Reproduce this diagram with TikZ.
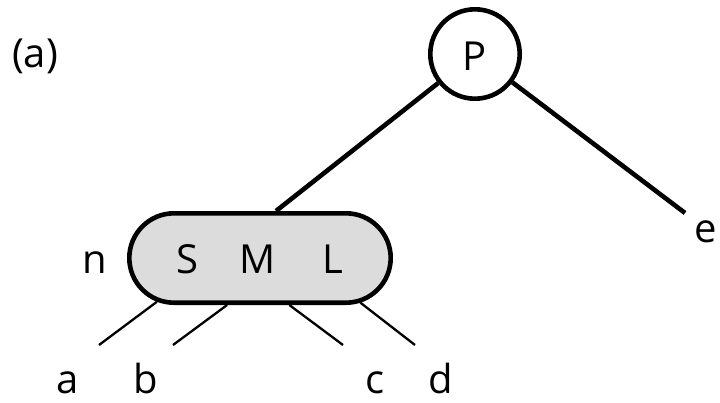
\documentclass[tikz,border=0pt]{standalone}
\usepackage{fontspec}
\setmainfont{Open Sans}
\usetikzlibrary{shapes.misc}
\definecolor{keyfill}{HTML}{DCDCDC}
\begin{document}
\begin{tikzpicture}[x=1pt,y=-1pt,
  lbl/.style={font=\fontsize{40}{48}\selectfont, inner sep=0pt, anchor=base},
  heavy/.style={line width=4.6pt},
  light/.style={line width=2.3pt},
  ]
\useasboundingbox (0,0) rectangle (720,402);

% parent node
\node[circle, draw, heavy, minimum size=89.4pt, inner sep=0pt] (P) at (475,54) {};
\node[lbl] (Ptxt) at (475,70) {P};

% three-key node
\node[rounded rectangle, draw, heavy, fill=keyfill, minimum width=261.4pt,
      minimum height=89.4pt, inner sep=0pt] (pill) at (260,258) {};
\node[lbl] (kS) at (187,273) {S};
\node[lbl] (kM) at (258,273) {M};
\node[lbl] (kL) at (333,273) {L};
\node[lbl] (n) at (95,273) {n};

% caption
\node[lbl] (cap) at (35,67) {(a)};

% subtree labels
\node[lbl] (a) at (68,393) {a};
\node[lbl] (b) at (146,393) {b};
\node[lbl] (c) at (375,393) {c};
\node[lbl] (d) at (441,393) {d};
\node[lbl] (e) at (706,242) {e};

% free ends of the edges
\coordinate (join) at (276,211);
\coordinate (ee) at (685,213);
\coordinate (la) at (99,345);
\coordinate (lb) at (173,345);
\coordinate (lc) at (343,345);
\coordinate (ld) at (415,345);

\draw[heavy] (P) -- (join);
\draw[heavy] (P) -- (ee);

\draw[light] (pill.203) -- (la);
\draw[light] (pill.235.5) -- (lb);
\draw[light] (pill.302) -- (lc);
\draw[light] (pill.336) -- (ld);
\end{tikzpicture}
\end{document}
